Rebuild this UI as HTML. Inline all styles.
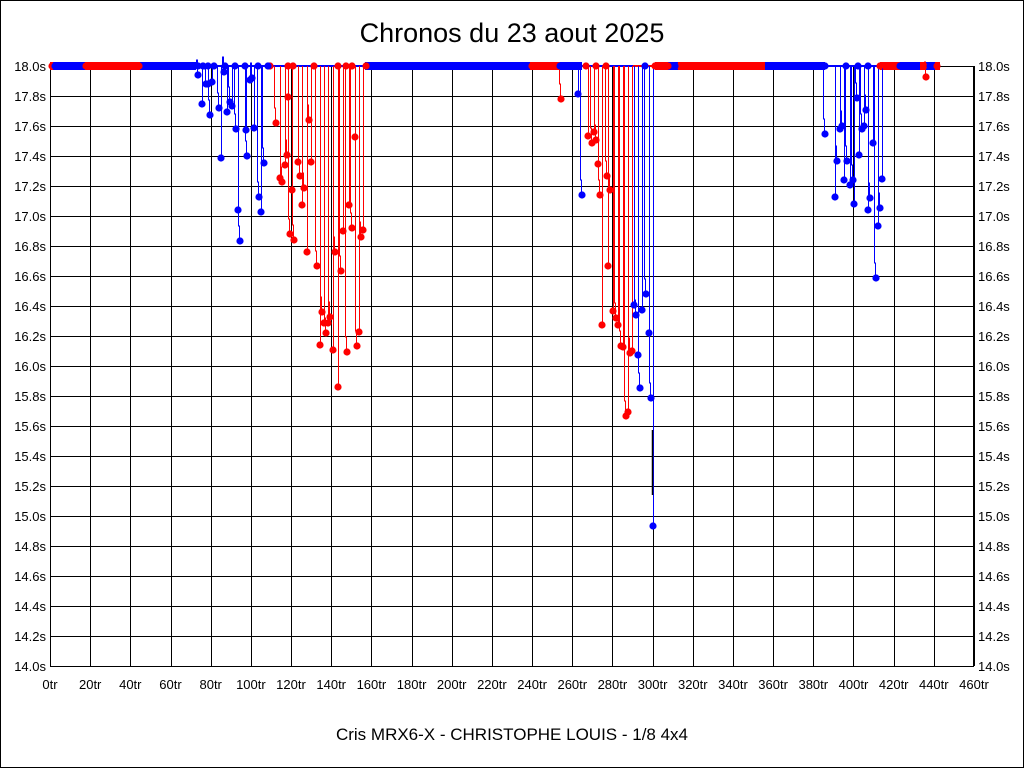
<!DOCTYPE html>
<html><head><meta charset="utf-8"><style>
html,body{margin:0;padding:0;background:#fff}
#w{position:relative;width:1024px;height:768px;overflow:hidden;font-family:"Liberation Sans",Arial,sans-serif}
svg{position:absolute;left:0;top:0}
</style></head><body><div id="w">
<svg id="s" width="1024" height="768" xmlns="http://www.w3.org/2000/svg" font-family="Liberation Sans, Arial, sans-serif">
<rect x="0.5" y="0.5" width="1023" height="767" fill="#fff" stroke="#000"/>
<text x="512" y="42" font-size="27" text-anchor="middle">Chronos du 23 aout 2025</text>
<text x="512" y="740" font-size="17" text-anchor="middle">Cris MRX6-X - CHRISTOPHE LOUIS - 1/8 4x4</text>
<g id="grid" stroke="#000" stroke-width="1"></g>
<g font-size="13" text-anchor="end">
<text x="46" y="71">18.0s</text><text x="46" y="101">17.8s</text><text x="46" y="131">17.6s</text><text x="46" y="161">17.4s</text><text x="46" y="191">17.2s</text><text x="46" y="221">17.0s</text><text x="46" y="251">16.8s</text><text x="46" y="281">16.6s</text><text x="46" y="311">16.4s</text><text x="46" y="341">16.2s</text><text x="46" y="371">16.0s</text><text x="46" y="401">15.8s</text><text x="46" y="431">15.6s</text><text x="46" y="461">15.4s</text><text x="46" y="491">15.2s</text><text x="46" y="521">15.0s</text><text x="46" y="551">14.8s</text><text x="46" y="581">14.6s</text><text x="46" y="611">14.4s</text><text x="46" y="641">14.2s</text><text x="46" y="671">14.0s</text>
</g>
<g font-size="13" text-anchor="start">
<text x="978" y="71">18.0s</text><text x="978" y="101">17.8s</text><text x="978" y="131">17.6s</text><text x="978" y="161">17.4s</text><text x="978" y="191">17.2s</text><text x="978" y="221">17.0s</text><text x="978" y="251">16.8s</text><text x="978" y="281">16.6s</text><text x="978" y="311">16.4s</text><text x="978" y="341">16.2s</text><text x="978" y="371">16.0s</text><text x="978" y="401">15.8s</text><text x="978" y="431">15.6s</text><text x="978" y="461">15.4s</text><text x="978" y="491">15.2s</text><text x="978" y="521">15.0s</text><text x="978" y="551">14.8s</text><text x="978" y="581">14.6s</text><text x="978" y="611">14.4s</text><text x="978" y="641">14.2s</text><text x="978" y="671">14.0s</text>
</g>
<g font-size="13" text-anchor="middle">
<text x="50" y="689">0tr</text><text x="90.2" y="689">20tr</text><text x="130.3" y="689">40tr</text><text x="170.5" y="689">60tr</text><text x="210.7" y="689">80tr</text><text x="250.9" y="689">100tr</text><text x="291" y="689">120tr</text><text x="331.2" y="689">140tr</text><text x="371.4" y="689">160tr</text><text x="411.6" y="689">180tr</text><text x="451.7" y="689">200tr</text><text x="491.9" y="689">220tr</text><text x="532.1" y="689">240tr</text><text x="572.3" y="689">260tr</text><text x="612.4" y="689">280tr</text><text x="652.6" y="689">300tr</text><text x="692.8" y="689">320tr</text><text x="733" y="689">340tr</text><text x="773.1" y="689">360tr</text><text x="813.3" y="689">380tr</text><text x="853.5" y="689">400tr</text><text x="893.7" y="689">420tr</text><text x="933.8" y="689">440tr</text><text x="974" y="689">460tr</text>
</g>
<g id="data"></g>
</svg>
<script>
var NS="http://www.w3.org/2000/svg",g=document.getElementById("grid"),d=document.getElementById("data");
function el(p,t,a){var e=document.createElementNS(NS,t);for(var k in a)e.setAttribute(k,a[k]);p.appendChild(e);return e;}
for(var i=0;i<=23;i++){var x=Math.round(50+i*20*924/460)+0.5;el(g,"line",{x1:x,y1:66,x2:x,y2:666});}
for(var j=0;j<=20;j++){var y=66+j*30+0.5;el(g,"line",{x1:50,y1:y,x2:974,y2:y});}
el(g,"rect",{x:50.5,y:66.5,width:923,height:600,fill:"none"});
var R="#ff0000",B="#0000ff";
var bands=[[50,53,R,8],[53,85,B,8],[85,140,R,8],[140,196,B,8],[196,365,B,2],[365,530,B,8],[530,560,R,8],[560,582,B,8],[582,633,B,2],[633,655,R,2],[655,668,R,8],[668,678,B,8],[678,765,R,8],[765,825,B,8],[825,880,B,2],[880,900,R,8],[900,920,B,8],[920,925,R,8],[925,935,B,8],[935,940,R,8]];
bands.forEach(function(b){el(d,"rect",{x:b[0],y:66-b[3]/2,width:b[1]-b[0],height:b[3],fill:b[2]});});
var pts={};
pts[B]=[[198,75],[202,104],[206,84],[208,84],[210,115],[212,82],[219,108],[221,158],[224,72],[227,112],[230,102],[232,106],[236,129],[238,210],[240,241],[246,130],[247,156],[250,80],[252,78],[254,128],[259,197],[261,212],[264,163],
[578,94],[582,195],[634,305],[636,315],[638,355],[640,388],[642,310],[646,294],[649,333],[651,398],[653,526],
[825,134],[835,197],[837,161],[840,129],[842,126],[844,180],[847,161],[850,185],[853,180],[854,204],[857,98],[859,155],[862,129],[864,126],[866,110],[868,210],[870,198],[873,143],[876,278],[878,226],[880,208],[882,179]];
pts[R]=[[276,123],[280,178],[282,182],[285,165],[287,155],[288,97],[290,234],[292,190],[294,240],[298,162],[300,176],[302,205],[304,188],[307,252],[309,120],[311,162],[317,266],[320,345],[322,312],[324,323],[326,333],[328,323],[330,317],[333,350],[335,252],[338,387],[341,271],[343,231],[347,352],[349,205],[352,228],[355,137],[357,346],[359,332],[361,237],[363,230],
[561,99],[588,136],[592,143],[594,132],[596,140],[598,164],[600,195],[602,325],[607,176],[608,266],[610,190],[613,311],[616,318],[618,325],[621,346],[623,347],[626,416],[628,412],[630,353],[632,351],[926,77]];
var topR=[52,86,139,270,288,293,314,338,346,352,366,532,555,586,596,606,655,668,680,880,924,937],topB=[55,198,203,208,214,225,235,245,258,268,560,575,645,675,825,846,858,868,900,930];
[[R,pts[R]],[B,pts[B]]].forEach(function(s){
  var c=s[0];
  s[1].forEach(function(p,i){
    if(i%2==0) el(d,"path",{d:"M"+(p[0]-1.5)+" 66V"+(p[1]-15)+"H"+(p[0]-0.5)+"V"+p[1],stroke:c,"stroke-width":1,fill:"none"});
    else el(d,"path",{d:"M"+(p[0]+0.5)+" 66V"+p[1],stroke:c,"stroke-width":1,fill:"none"});
  });
  s[1].forEach(function(p){el(d,"circle",{cx:p[0],cy:p[1],r:3.6,fill:c});});
});
el(d,"line",{x1:652.5,y1:430,x2:652.5,y2:495,stroke:"#000","stroke-width":1.5});
topR.forEach(function(x){el(d,"circle",{cx:x,cy:66,r:3.6,fill:R});});
topB.forEach(function(x){el(d,"circle",{cx:x,cy:66,r:3.6,fill:B});});
</script>
</div></body></html>
